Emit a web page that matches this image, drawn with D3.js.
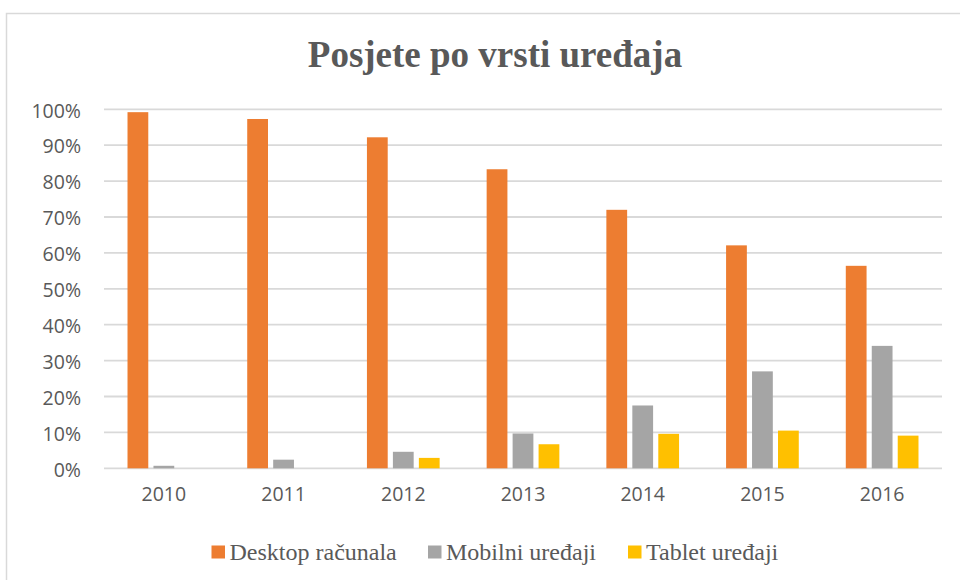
<!DOCTYPE html>
<html>
<head>
<meta charset="utf-8">
<script src="https://cdn.jsdelivr.net/npm/d3@7"></script>
<style>
  body { margin: 0; background: #fff; }
</style>
</head>
<body>
<div id="chart"></div>
<script>
// data
const years = ["2010", "2011", "2012", "2013", "2014", "2015", "2016"];
const seriesNames = ["Desktop računala", "Mobilni uređaji", "Tablet uređaji"];
const desktop = [99.2, 97.3, 92.2, 83.3, 72.0, 62.1, 56.4];
const mobile = [0.7, 2.4, 4.6, 9.7, 17.5, 27.0, 34.1];
const tablet = [0, 0, 2.9, 6.7, 9.6, 10.5, 9.1];
const yTicks = [0, 10, 20, 30, 40, 50, 60, 70, 80, 90, 100];
const colors = ["#ED7D31", "#A5A5A5", "#FFC000"];

const W = 960, H = 580;
const plot = { left: 104, right: 942, top: 109.3, bottom: 468.3 };
const textColor = "#595959";
const gridColor = "#D9D9D9";

const svg = d3.select("#chart")
    .append("svg")
    .attr("width", W)
    .attr("height", H);

// chart border (runs off the right/bottom edge like the reference)
svg.append("rect")
    .attr("x", 6.5)
    .attr("y", 13.5)
    .attr("width", W + 20)
    .attr("height", H + 20)
    .attr("fill", "#fff")
    .attr("stroke", gridColor)
    .attr("stroke-width", 1.5);

// title
svg.append("text")
    .attr("x", 495)
    .attr("y", 67)
    .attr("text-anchor", "middle")
    .attr("font-family", "'Liberation Serif', 'Times New Roman', serif")
    .attr("font-weight", "bold")
    .attr("font-size", 37)
    .attr("fill", textColor)
    .text("Posjete po vrsti uređaja");

const x0 = d3.scaleBand()
    .domain(years)
    .range([plot.left, plot.right])
    .padding(0);

const groupWidth = 72.7;
const x1 = d3.scaleBand()
    .domain(d3.range(seriesNames.length))
    .range([0, groupWidth])
    .paddingInner(0.2);

const y = d3.scaleLinear()
    .domain([0, 100])
    .range([plot.bottom, plot.top]);

// gridlines
svg.append("g")
    .selectAll("line")
    .data(yTicks)
    .join("line")
    .attr("x1", plot.left)
    .attr("x2", plot.right)
    .attr("y1", d => y(d))
    .attr("y2", d => y(d))
    .attr("stroke", gridColor)
    .attr("stroke-width", 1.8);

// y axis labels
const yAxis = d3.axisLeft(y)
    .tickValues(yTicks)
    .tickFormat(d => d + "%")
    .tickSize(0)
    .tickPadding(0);

const yG = svg.append("g")
    .attr("transform", `translate(81, 1.5)`)
    .call(yAxis);
yG.select(".domain").remove();
yG.selectAll("text")
    .attr("font-family", "'Open Sans', 'Liberation Sans', sans-serif")
    .attr("font-size", 19.5)
    .attr("fill", textColor);

// x axis labels
const xAxis = d3.axisBottom(x0).tickSize(0).tickPadding(0);
const xG = svg.append("g")
    .attr("transform", `translate(0, 487)`)
    .call(xAxis);
xG.select(".domain").remove();
xG.selectAll("text")
    .attr("font-family", "'Open Sans', 'Liberation Sans', sans-serif")
    .attr("font-size", 19.5)
    .attr("fill", textColor);

// bars
const table = years.map((yr, i) => ({
    year: yr,
    values: [desktop[i], mobile[i], tablet[i]]
}));

const groups = svg.append("g")
    .selectAll("g")
    .data(table)
    .join("g")
    .attr("transform", d => `translate(${x0(d.year) + (x0.bandwidth() - groupWidth) / 2}, 0)`);

groups.selectAll("rect")
    .data(d => d.values.map((v, k) => ({ k: k, v: v })))
    .join("rect")
    .attr("x", d => x1(d.k))
    .attr("width", x1.bandwidth())
    .attr("y", d => y(d.v))
    .attr("height", d => y(0) - y(d.v))
    .attr("fill", d => colors[d.k]);

// legend
const legendX = [211.5, 428, 628];
const legend = svg.append("g")
    .selectAll("g")
    .data(seriesNames)
    .join("g")
    .attr("transform", (d, i) => `translate(${legendX[i]}, 545.5)`);

legend.append("rect")
    .attr("width", 13.5)
    .attr("height", 13)
    .attr("fill", (d, i) => colors[i]);

legend.append("text")
    .attr("x", 18)
    .attr("y", 14.5)
    .attr("font-family", "'Liberation Serif', 'Times New Roman', serif")
    .attr("font-size", 24)
    .attr("fill", textColor)
    .text(d => d);
</script>
</body>
</html>
